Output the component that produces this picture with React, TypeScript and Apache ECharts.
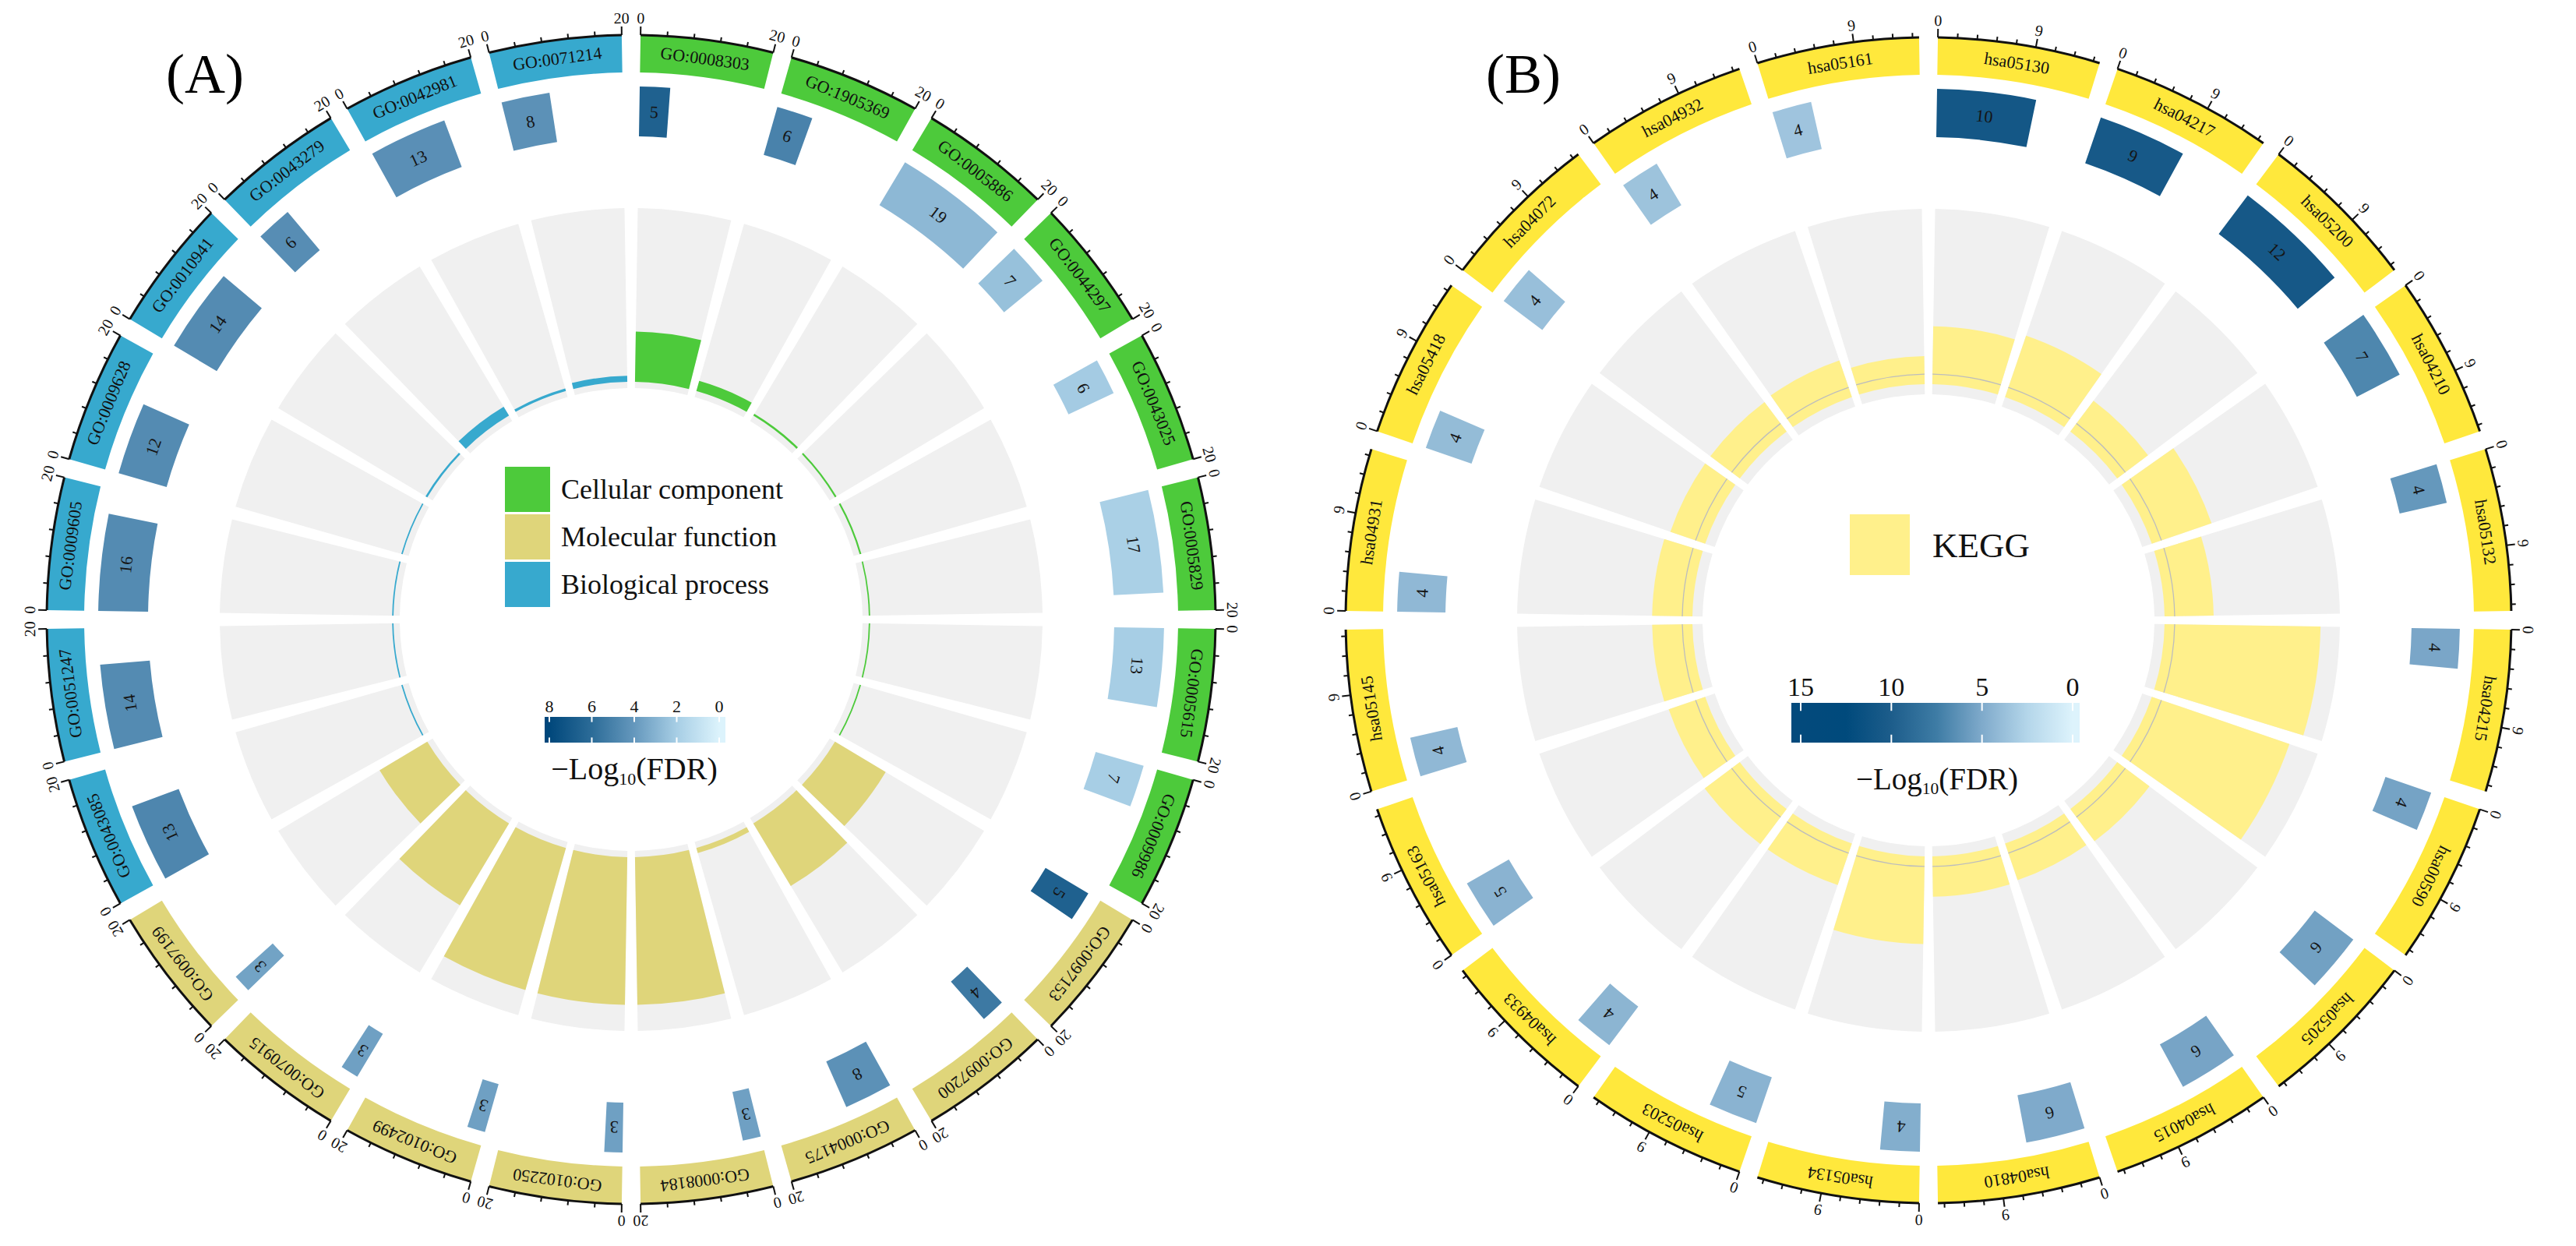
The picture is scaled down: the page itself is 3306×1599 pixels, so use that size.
import React, { useEffect, useRef } from 'react';
import * as echarts from 'echarts';

const FONT = '"Liberation Serif", "Times New Roman", Times, serif';

// ===== Panel (A): GO enrichment =====
const goTerms = [
  'GO:0008303', 'GO:1905369', 'GO:0005886', 'GO:0044297', 'GO:0043025', 'GO:0005829', 'GO:0005615', 'GO:0009986',
  'GO:0097153', 'GO:0097200', 'GO:0004175', 'GO:0008184', 'GO:0102250', 'GO:0102499', 'GO:0070915', 'GO:0097199',
  'GO:0043085', 'GO:0051247', 'GO:0009605', 'GO:0009628', 'GO:0010941', 'GO:0043279', 'GO:0042981', 'GO:0071214',
];
const goCategoryNames = ['Cellular component', 'Molecular function', 'Biological process'];
const goTermCategory = [0, 0, 0, 0, 0, 0, 0, 0, 1, 1, 1, 1, 1, 1, 1, 1, 2, 2, 2, 2, 2, 2, 2, 2];
const goGeneCount = [5, 6, 19, 7, 6, 17, 13, 7, 5, 4, 8, 3, 3, 3, 3, 3, 13, 14, 16, 12, 14, 6, 13, 8];
const goNegLog10FDR = [6.6, 5.0, 2.8, 2.5, 2.1, 1.9, 2.0, 2.0, 6.6, 5.4, 4.3, 3.7, 3.7, 3.7, 3.7, 3.6, 4.8, 4.6, 4.6, 4.6, 4.6, 4.5, 4.4, 4.3];
const goRichFactor = [0.29, 0.06, 0.012, 0.01, 0.01, 0.008, 0.008, 0.008, 0.34, 0.42, 0.03, 0.85, 0.85, 0.85, 0.55, 0.32, 0.008, 0.008, 0.008, 0.008, 0.012, 0.06, 0.015, 0.035];
const goAxisMax = 20;
const goAxisMinorStep = 4;
const goAxisLabelValues = [0, 20];
const goFdrMax = 8;
const goFdrLegendTicks = [8, 6, 4, 2, 0];

// ===== Panel (B): KEGG enrichment =====
const keggTerms = [
  'hsa05130', 'hsa04217', 'hsa05200', 'hsa04210', 'hsa05132', 'hsa04215', 'hsa00590', 'hsa05205', 'hsa04015', 'hsa04810',
  'hsa05134', 'hsa05203', 'hsa04933', 'hsa05163', 'hsa05145', 'hsa04931', 'hsa05418', 'hsa04072', 'hsa04932', 'hsa05161',
];
const keggLegendName = 'KEGG';
const keggGeneCount = [10, 9, 12, 7, 4, 4, 4, 6, 6, 6, 4, 5, 4, 5, 4, 4, 4, 4, 4, 4];
const keggNegLog10FDR = [10.8, 10.5, 10.6, 6.9, 6.0, 5.2, 5.4, 5.5, 5.3, 5.0, 4.8, 4.5, 4.4, 4.5, 4.2, 4.2, 4.0, 3.8, 3.6, 3.5];
const keggRichFactor = [0.33, 0.37, 0.22, 0.36, 0.28, 0.89, 0.83, 0.23, 0.22, 0.23, 0.5, 0.25, 0.25, 0.22, 0.23, 0.23, 0.21, 0.21, 0.22, 0.16];
const keggAxisMax = 15;
const keggAxisMinorStep = 1.8;
const keggAxisLabelValues = [0, 9];
const keggFdrMax = 15;
const keggFdrLegendTicks = [15, 10, 5, 0];

// ===== styles =====
const GO_COLORS = ['#4DCA3B', '#DFD57A', '#37A9CE'];
const KEGG_BAND = '#FFE83C';
const KEGG_BAR = '#FFF08B';
const GREY = '#F0F0F0';
const A_STOPS = ['#DCF3FC', '#A7CEE5', '#6598BD', '#2C6C98', '#00477B'];
const B_STOPS = ['#DDF3FC', '#B4D6EA', '#7FAACB', '#3E7CA5', '#1D5D8B', '#004A7C', '#034A7C'];
const RMAX = 800;

const LA = {
  cx: 810, cy: 795, n: goTerms.length, gapDeg: 1.85, axisR: 750, bandIn: 702, boxIn: 620, boxOut: 684,
  greyIn: 297, greyOut: 528, base: 305, tickLabelR: 772, majorTick: 11, minorTick: 6,
  termFont: 22, tickFont: 20, boxFont: 22,
};
const LB = {
  cx: 2475, cy: 796, n: keggTerms.length, gapDeg: 1.85, axisR: 748, bandIn: 700, boxIn: 620, boxOut: 682,
  greyIn: 290, greyOut: 528, base: 303, refLineR: 316, tickLabelR: 770, majorTick: 11, minorTick: 6,
  termFont: 22, tickFont: 20, boxFont: 22,
};

function geom(params: any, api: any) {
  const cs = params.coordSys;
  const cx = cs.cx;
  const cy = cs.cy;
  const ang = (a: number) => {
    const p = api.coord([100, a]);
    return Math.atan2(p[1] - cy, p[0] - cx);
  };
  const rad = (r: number) => {
    const p = api.coord([r, 0]);
    return Math.hypot(p[0] - cx, p[1] - cy);
  };
  const span = (a0: number, a1: number) => {
    const s = ang(a0);
    let e = ang(a1);
    while (e <= s) e += Math.PI * 2;
    return [s, e];
  };
  const pt = (r: number, a: number) => api.coord([r, a]);
  const tangentRot = (a: number) => -(ang(a) + Math.PI / 2);
  return { cx, cy, ang, rad, span, pt, tangentRot };
}

function bounds(i: number, L: any) {
  const g = L.gapDeg / (360 / L.n);
  return [i + g / 2, i + 1 - g / 2];
}

function greyRenderer(L: any) {
  return (params: any, api: any) => {
    const G = geom(params, api);
    const i = api.value(0);
    const [a0, a1] = bounds(i, L);
    const [s, e] = G.span(a0, a1);
    return {
      type: 'sector',
      shape: { cx: G.cx, cy: G.cy, r0: G.rad(L.greyIn), r: G.rad(L.greyOut), startAngle: s, endAngle: e, clockwise: true },
      style: { fill: GREY },
    };
  };
}

function barRenderer(L: any, colorOf: (i: number) => string) {
  return (params: any, api: any) => {
    const G = geom(params, api);
    const i = api.value(0);
    const v = api.value(1);
    const [a0, a1] = bounds(i, L);
    const [s, e] = G.span(a0, a1);
    const top = L.base + v * (L.greyOut - L.base);
    return {
      type: 'sector',
      shape: { cx: G.cx, cy: G.cy, r0: G.rad(L.base), r: G.rad(top), startAngle: s, endAngle: e, clockwise: true },
      style: { fill: colorOf(i) },
    };
  };
}

function refLineRenderer(L: any) {
  return (params: any, api: any) => {
    const G = geom(params, api);
    const i = api.value(0);
    const [a0, a1] = bounds(i, L);
    const [s, e] = G.span(a0, a1);
    return {
      type: 'arc',
      shape: { cx: G.cx, cy: G.cy, r: G.rad(L.refLineR), startAngle: s, endAngle: e, clockwise: true },
      style: { stroke: '#BDBDBD', lineWidth: 1.3, fill: 'none' },
    };
  };
}

function boxRenderer(L: any, xmax: number) {
  return (params: any, api: any) => {
    const G = geom(params, api);
    const i = api.value(0);
    const count = api.value(1);
    const [a0, a1] = bounds(i, L);
    const aEnd = a0 + (count / xmax) * (a1 - a0);
    const [s, e] = G.span(a0, aEnd);
    const mid = (a0 + aEnd) / 2;
    const p = G.pt((L.boxIn + L.boxOut) / 2, mid);
    return {
      type: 'group',
      children: [
        {
          type: 'sector',
          shape: { cx: G.cx, cy: G.cy, r0: G.rad(L.boxIn), r: G.rad(L.boxOut), startAngle: s, endAngle: e, clockwise: true },
          style: { fill: api.visual('color') },
        },
        {
          type: 'text', x: p[0], y: p[1], rotation: G.tangentRot(mid),
          style: { text: String(count), fontSize: L.boxFont, fontFamily: FONT, fill: '#151515', align: 'center', verticalAlign: 'middle' },
        },
      ],
    };
  };
}

function bandRenderer(L: any, terms: string[], colorOf: (i: number) => string, xmax: number, minorStep: number, labelValues: number[]) {
  return (params: any, api: any) => {
    const G = geom(params, api);
    const i = api.value(0);
    const [a0, a1] = bounds(i, L);
    const [s, e] = G.span(a0, a1);
    const kids: any[] = [];
    kids.push({
      type: 'sector',
      shape: { cx: G.cx, cy: G.cy, r0: G.rad(L.bandIn), r: G.rad(L.axisR), startAngle: s, endAngle: e, clockwise: true },
      style: { fill: colorOf(i) },
    });
    const mid = (a0 + a1) / 2;
    const lp = G.pt((L.bandIn + L.axisR) / 2, mid);
    kids.push({
      type: 'text', x: lp[0], y: lp[1], rotation: G.tangentRot(mid),
      style: { text: terms[i], fontSize: L.termFont, fontFamily: FONT, fill: '#111', align: 'center', verticalAlign: 'middle' },
    });
    kids.push({
      type: 'arc',
      shape: { cx: G.cx, cy: G.cy, r: G.rad(L.axisR), startAngle: s, endAngle: e, clockwise: true },
      style: { stroke: '#111', lineWidth: 3, fill: 'none' },
    });
    const xToA = (x: number) => a0 + (x / xmax) * (a1 - a0);
    for (let k = 0; k * minorStep <= xmax + 1e-9; k++) {
      const x = k * minorStep;
      const isMajor = labelValues.some((v) => Math.abs(v - x) < 1e-6);
      const a = xToA(x);
      const p0 = G.pt(L.axisR, a);
      const p1 = G.pt(L.axisR + (isMajor ? L.majorTick : L.minorTick), a);
      kids.push({ type: 'line', shape: { x1: p0[0], y1: p0[1], x2: p1[0], y2: p1[1] }, style: { stroke: '#111', lineWidth: 2 } });
    }
    labelValues.forEach((v) => {
      const a = xToA(v);
      const p = G.pt(L.tickLabelR, a);
      kids.push({
        type: 'text', x: p[0], y: p[1], rotation: G.tangentRot(a),
        style: { text: String(v), fontSize: L.tickFont, fontFamily: FONT, fill: '#111', align: 'center', verticalAlign: 'middle' },
      });
    });
    return { type: 'group', children: kids };
  };
}

function colorBar(o: any) {
  const els: any[] = [];
  const xOf = (v: number) => o.labelX0 + ((o.max - v) / o.max) * (o.labelX1 - o.labelX0);
  const n = o.stops.length - 1;
  const colorStops: any[] = [{ offset: 0, color: o.stops[n] }];
  for (let j = n; j >= 0; j--) {
    const v = (j * o.max) / n;
    colorStops.push({ offset: (xOf(v) - o.x0) / (o.x1 - o.x0), color: o.stops[j] });
  }
  colorStops.push({ offset: 1, color: o.stops[0] });
  els.push({
    type: 'rect', silent: true,
    shape: { x: o.x0, y: o.y0, width: o.x1 - o.x0, height: o.h },
    style: { fill: new echarts.graphic.LinearGradient(0, 0, 1, 0, colorStops) },
  });
  o.ticks.forEach((v: number) => {
    const x = xOf(v);
    els.push({ type: 'line', silent: true, shape: { x1: x, y1: o.y0, x2: x, y2: o.y0 + o.h * 0.2 }, style: { stroke: '#fff', lineWidth: 2 } });
    els.push({ type: 'line', silent: true, shape: { x1: x, y1: o.y0 + o.h * 0.8, x2: x, y2: o.y0 + o.h }, style: { stroke: '#fff', lineWidth: 2 } });
    els.push({
      type: 'text', silent: true, x, y: o.labelY,
      style: { text: String(v), fontSize: o.labelFont, fontFamily: FONT, fill: '#111', align: 'center', verticalAlign: 'middle' },
    });
  });
  // title: −Log10(FDR)
  const f = o.titleFont;
  const wMain = 2.175 * f;
  const fs = f * 0.55;
  const wSub = fs;
  const wTail = 2.611 * f;
  const xStart = o.titleX - (wMain + wSub + wTail) / 2;
  els.push({ type: 'text', silent: true, x: xStart, y: o.titleY, style: { text: '\u2212Log', fontSize: f, fontFamily: FONT, fill: '#111', align: 'left', verticalAlign: 'middle' } });
  els.push({ type: 'text', silent: true, x: xStart + wMain, y: o.titleY + f * 0.33, style: { text: '10', fontSize: fs, fontFamily: FONT, fill: '#111', align: 'left', verticalAlign: 'middle' } });
  els.push({ type: 'text', silent: true, x: xStart + wMain + wSub, y: o.titleY, style: { text: '(FDR)', fontSize: f, fontFamily: FONT, fill: '#111', align: 'left', verticalAlign: 'middle' } });
  return els;
}

function buildOption() {
  const axisHidden = { axisLine: { show: false }, axisTick: { show: false }, axisLabel: { show: false }, splitLine: { show: false }, splitArea: { show: false } };
  const goColorOf = (i: number) => GO_COLORS[goTermCategory[i]];

  const series: any[] = [
    // A
    { type: 'custom', coordinateSystem: 'polar', polarIndex: 0, silent: true, data: goTerms.map((_, i) => [i, 1]), renderItem: greyRenderer(LA) },
    { type: 'custom', coordinateSystem: 'polar', polarIndex: 0, silent: true, data: goTerms.map((_, i) => [i, goRichFactor[i]]), renderItem: barRenderer(LA, goColorOf) },
    { type: 'custom', coordinateSystem: 'polar', polarIndex: 0, silent: true, data: goTerms.map((_, i) => [i, goGeneCount[i], goNegLog10FDR[i]]), renderItem: boxRenderer(LA, goAxisMax) },
    { type: 'custom', coordinateSystem: 'polar', polarIndex: 0, silent: true, data: goTerms.map((_, i) => [i, 1]), renderItem: bandRenderer(LA, goTerms, goColorOf, goAxisMax, goAxisMinorStep, goAxisLabelValues) },
    // B
    { type: 'custom', coordinateSystem: 'polar', polarIndex: 1, silent: true, data: keggTerms.map((_, i) => [i, 1]), renderItem: greyRenderer(LB) },
    { type: 'custom', coordinateSystem: 'polar', polarIndex: 1, silent: true, data: keggTerms.map((_, i) => [i, keggRichFactor[i]]), renderItem: barRenderer(LB, () => KEGG_BAR) },
    { type: 'custom', coordinateSystem: 'polar', polarIndex: 1, silent: true, data: keggTerms.map((_, i) => [i, 1]), renderItem: refLineRenderer(LB) },
    { type: 'custom', coordinateSystem: 'polar', polarIndex: 1, silent: true, data: keggTerms.map((_, i) => [i, keggGeneCount[i], keggNegLog10FDR[i]]), renderItem: boxRenderer(LB, keggAxisMax) },
    { type: 'custom', coordinateSystem: 'polar', polarIndex: 1, silent: true, data: keggTerms.map((_, i) => [i, 1]), renderItem: bandRenderer(LB, keggTerms, () => KEGG_BAND, keggAxisMax, keggAxisMinorStep, keggAxisLabelValues) },
  ];

  const elements: any[] = [];
  elements.push({ type: 'text', silent: true, x: 263, y: 95, style: { text: '(A)', fontSize: 72, fontFamily: FONT, fill: '#000', align: 'center', verticalAlign: 'middle' } });
  elements.push({ type: 'text', silent: true, x: 1955, y: 95, style: { text: '(B)', fontSize: 72, fontFamily: FONT, fill: '#000', align: 'center', verticalAlign: 'middle' } });

  // Legend A (categories)
  goCategoryNames.forEach((name, k) => {
    const y = 599 + k * 61;
    elements.push({ type: 'rect', silent: true, shape: { x: 648, y, width: 58, height: 58 }, style: { fill: GO_COLORS[k] } });
    elements.push({ type: 'text', silent: true, x: 720, y: y + 29, style: { text: name, fontSize: 36, fontFamily: FONT, fill: '#111', align: 'left', verticalAlign: 'middle' } });
  });
  elements.push(...colorBar({
    x0: 699, x1: 931, y0: 920, h: 33, labelX0: 705, labelX1: 923, ticks: goFdrLegendTicks, max: goFdrMax, stops: A_STOPS,
    labelY: 906, labelFont: 22, titleX: 814, titleY: 986, titleFont: 40,
  }));

  // Legend B
  elements.push({ type: 'rect', silent: true, shape: { x: 2374, y: 660, width: 77, height: 78 }, style: { fill: KEGG_BAR } });
  elements.push({ type: 'text', silent: true, x: 2480, y: 700, style: { text: keggLegendName, fontSize: 45, fontFamily: FONT, fill: '#111', align: 'left', verticalAlign: 'middle' } });
  elements.push(...colorBar({
    x0: 2299, x1: 2669, y0: 902, h: 51, labelX0: 2311, labelX1: 2660, ticks: keggFdrLegendTicks, max: keggFdrMax, stops: B_STOPS,
    labelY: 881, labelFont: 34, titleX: 2486, titleY: 999, titleFont: 39,
  }));

  return {
    backgroundColor: '#ffffff',
    animation: false,
    polar: [
      { center: [LA.cx, LA.cy], radius: [0, RMAX] },
      { center: [LB.cx, LB.cy], radius: [0, RMAX] },
    ],
    angleAxis: [
      { polarIndex: 0, type: 'value', min: 0, max: goTerms.length, startAngle: 90, clockwise: true, ...axisHidden },
      { polarIndex: 1, type: 'value', min: 0, max: keggTerms.length, startAngle: 90, clockwise: true, ...axisHidden },
    ],
    radiusAxis: [
      { polarIndex: 0, type: 'value', min: 0, max: RMAX, ...axisHidden },
      { polarIndex: 1, type: 'value', min: 0, max: RMAX, ...axisHidden },
    ],
    visualMap: [
      { type: 'continuous', show: false, seriesIndex: 2, dimension: 2, min: 0, max: goFdrMax, inRange: { color: A_STOPS } },
      { type: 'continuous', show: false, seriesIndex: 7, dimension: 2, min: 0, max: keggFdrMax, inRange: { color: B_STOPS } },
    ],
    series,
    graphic: { elements },
  };
}

export default function App() {
  const ref = useRef<HTMLDivElement | null>(null);
  useEffect(() => {
    if (!ref.current) return;
    const chart = echarts.init(ref.current, null, { renderer: 'svg' });
    chart.setOption(buildOption() as any);
    return () => chart.dispose();
  }, []);
  return <div ref={ref} style={{ position: 'fixed', left: 0, top: 0, width: 3306, height: 1599, background: '#fff' }} />;
}
